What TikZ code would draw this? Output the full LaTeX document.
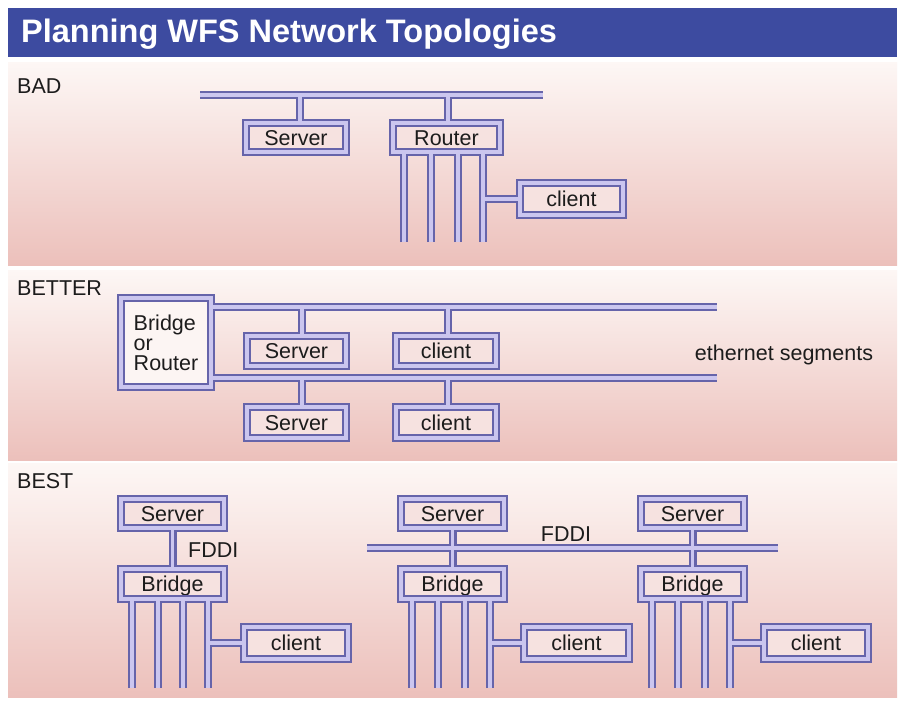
\documentclass[tikz,border=0pt]{standalone}
\usepackage{fontspec}
\setmainfont{Liberation Sans}
\definecolor{titleblue}{HTML}{3D4BA0}
\definecolor{wdark}{HTML}{6664AA}
\definecolor{wlight}{HTML}{CBC6EF}
\definecolor{boxfill}{HTML}{F6E2E0}
\definecolor{brfill}{HTML}{FCF5F3}
\definecolor{pinktop}{HTML}{FDF7F5}
\definecolor{pinkbot}{HTML}{ECC0BB}
\definecolor{ink}{HTML}{1C1C1C}

\newcommand\wfswires{%
  % box borders
  \foreach \n in {srvA,rtrA,cliA,brg,srvB1,cliB1,srvB2,cliB2,srvC1,brC1,cliC1,srvC2,brC2,cliC2,srvC3,brC3,cliC3}
    \draw[wire] (\n.north west) rectangle (\n.south east);
  % BAD
  \draw[wire] (busA1) -- (busA2);
  \draw[wire] (dA1) -- (dA1 |- srvA.north);
  \draw[wire] (dA2) -- (dA2 |- rtrA.north);
  \foreach \v in {vA1,vA2,vA3,vA4} \draw[wire] (\v) -- (\v |- rtrA.south);
  \draw[wire] (vA4 |- cliA.west) -- (cliA.west);
  % BETTER
  \draw[wire] (tB -| brg.east) -- (tB);
  \draw[wire] (bB -| brg.east) -- (bB);
  \draw[wire] (dB1) -- (dB1 |- srvB1.north);
  \draw[wire] (dB2) -- (dB2 |- cliB1.north);
  \draw[wire] (dB3) -- (dB3 |- srvB2.north);
  \draw[wire] (dB4) -- (dB4 |- cliB2.north);
  % BEST
  \draw[wire] (srvC1.south) -- (brC1.north);
  \draw[wire] (fA) -- (fB);
  \draw[wire] (srvC2.south) -- (brC2.north);
  \draw[wire] (srvC3.south) -- (brC3.north);
  \foreach \v in {v11,v12,v13,v14} \draw[wire] (\v) -- (\v |- brC1.south);
  \foreach \v in {v21,v22,v23,v24} \draw[wire] (\v) -- (\v |- brC2.south);
  \foreach \v in {v31,v32,v33,v34} \draw[wire] (\v) -- (\v |- brC3.south);
  \draw[wire] (v14 |- cliC1.west) -- (cliC1.west);
  \draw[wire] (v24 |- cliC2.west) -- (cliC2.west);
  \draw[wire] (v34 |- cliC3.west) -- (cliC3.west);
}

\begin{document}
\begin{tikzpicture}[x=1pt,y=-1pt,
  every node/.style={text=ink, font=\fontsize{21.5}{26}\selectfont},
  netbox/.style={rectangle, fill=boxfill, inner sep=0pt, outer sep=0pt, text height=15pt, text depth=0pt},
  lbl/.style={anchor=west, inner sep=0pt},
]
\useasboundingbox (0,0) rectangle (905,705);
\fill[white] (0,0) rectangle (905,705);
% title bar
\fill[titleblue] (8,8) rectangle (897,57);
\node[anchor=west, inner sep=0pt, text=white, font=\fontsize{32.5}{39}\selectfont\bfseries] (title) at (21,34) {Planning WFS Network Topologies};
% panels
\shade[top color=pinktop, bottom color=pinkbot] (8,62) rectangle (897,265);
\shade[top color=pinktop, bottom color=pinkbot] (8,270) rectangle (897,460);
\shade[top color=pinktop, bottom color=pinkbot] (8,463) rectangle (897,697);

% section labels
\node[lbl] (lbad) at (17,86) {BAD};
\node[lbl] (lbetter) at (17,288) {BETTER};
\node[lbl] (lbest) at (17,481) {BEST};

% BAD
\node[netbox, minimum width=100pt, minimum height=29pt] (srvA) at (296,137.5) {Server};
\node[netbox, minimum width=107pt, minimum height=29pt] (rtrA) at (446.5,137.5) {Router};
\node[netbox, minimum width=103pt, minimum height=32pt] (cliA) at (571.5,199) {client};
\coordinate (busA1) at (200,95);
\coordinate (busA2) at (543,95);
\coordinate (dA1) at (300,95);
\coordinate (dA2) at (448,95);
\coordinate (vA1) at (404,242);
\coordinate (vA2) at (431,242);
\coordinate (vA3) at (458,242);
\coordinate (vA4) at (483,242);

% BETTER
\node[netbox, fill=brfill, minimum width=90pt, minimum height=89pt, text height=, text depth=, align=left,
      font=\fontsize{21.5}{20}\selectfont] (brg) at (166,342.5) {Bridge\\or\\Router};
\node[netbox, minimum width=99pt, minimum height=30pt] (srvB1) at (296.5,351) {Server};
\node[netbox, minimum width=100pt, minimum height=30pt] (cliB1) at (446,351) {client};
\node[netbox, minimum width=99pt, minimum height=31pt] (srvB2) at (296.5,422.5) {Server};
\node[netbox, minimum width=100pt, minimum height=31pt] (cliB2) at (446,422.5) {client};
\coordinate (tB) at (717,307);
\coordinate (bB) at (717,378);
\coordinate (dB1) at (302,307);
\coordinate (dB2) at (448,307);
\coordinate (dB3) at (302,378);
\coordinate (dB4) at (448,378);
\node (eth) at (784,355) {ethernet segments};

% BEST
\node[netbox, minimum width=103pt, minimum height=29pt] (srvC1) at (172.5,513.5) {Server};
\node[netbox, minimum width=103pt, minimum height=30pt] (brC1) at (172.5,584) {Bridge};
\node[netbox, minimum width=104pt, minimum height=32pt] (cliC1) at (296,643) {client};
\node[netbox, minimum width=103pt, minimum height=29pt] (srvC2) at (452.5,513.5) {Server};
\node[netbox, minimum width=103pt, minimum height=30pt] (brC2) at (452.5,584) {Bridge};
\node[netbox, minimum width=105pt, minimum height=32pt] (cliC2) at (576.5,643) {client};
\node[netbox, minimum width=103pt, minimum height=29pt] (srvC3) at (692.5,513.5) {Server};
\node[netbox, minimum width=103pt, minimum height=30pt] (brC3) at (692.5,584) {Bridge};
\node[netbox, minimum width=104pt, minimum height=32pt] (cliC3) at (816,643) {client};
\node[lbl] (fddi1) at (188,550) {FDDI};
\node (fddi2) at (566,534) {FDDI};
\coordinate (fA) at (367,548);
\coordinate (fB) at (778,548);
\coordinate (v11) at (132,688);
\coordinate (v12) at (158,688);
\coordinate (v13) at (183,688);
\coordinate (v14) at (208,688);
\coordinate (v21) at (412,688);
\coordinate (v22) at (438,688);
\coordinate (v23) at (465,688);
\coordinate (v24) at (490,688);
\coordinate (v31) at (652,688);
\coordinate (v32) at (678,688);
\coordinate (v33) at (705,688);
\coordinate (v34) at (730,688);

% wires in two passes so that junctions merge
\begin{scope}[wire/.style={draw=wdark, line width=8pt}]
  \wfswires
\end{scope}
\begin{scope}[wire/.style={draw=wlight, line width=3.5pt}]
  \wfswires
\end{scope}
\end{tikzpicture}
\end{document}
